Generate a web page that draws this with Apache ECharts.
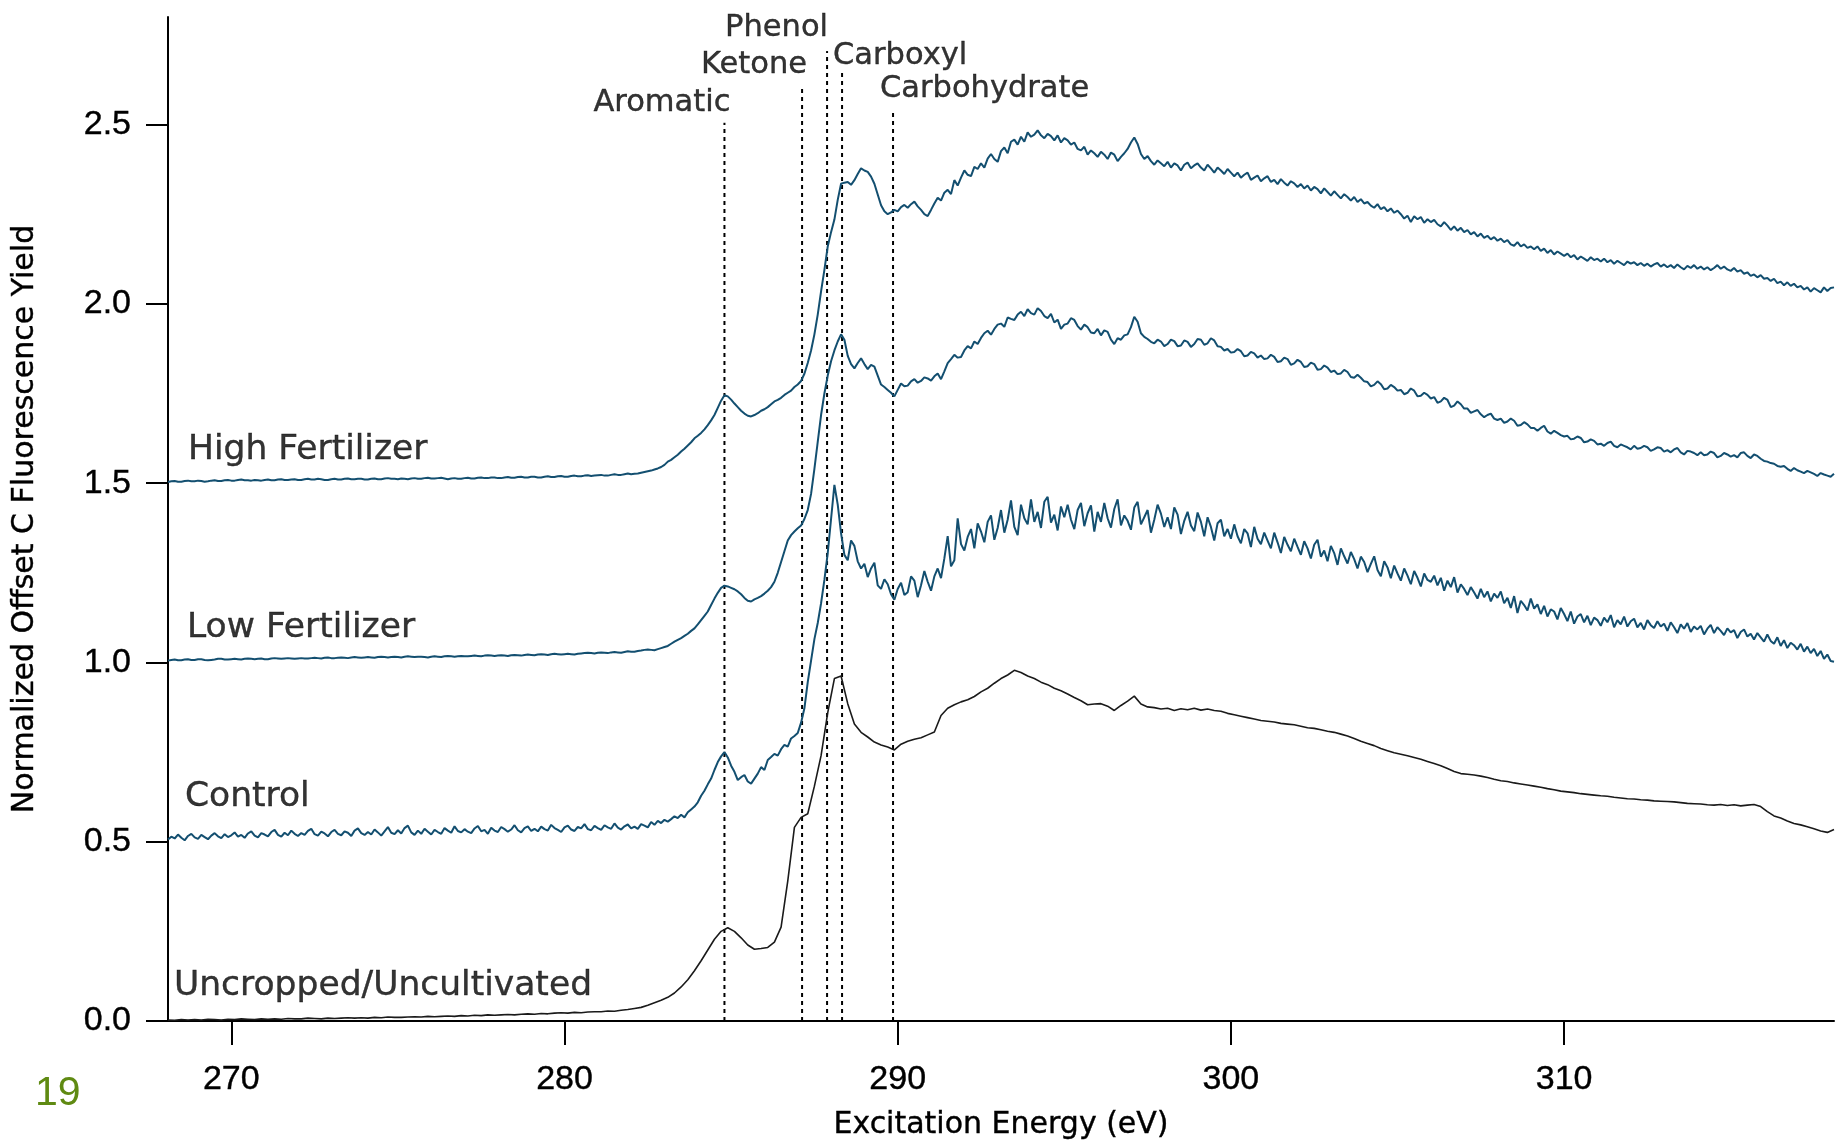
<!DOCTYPE html>
<html>
<head>
<meta charset="utf-8">
<title>C fluorescence yield spectra</title>
<script src="https://cdn.jsdelivr.net/npm/echarts@6/dist/echarts.min.js"></script>
<style>
    html, body { margin: 0; padding: 0; background: #fff; }
    #nexafsChart { width: 1843px; height: 1141px; }
</style>
</head>
<body>
<div id="nexafsChart"></div>
<script>
// energy grid starts at 268.1 eV; the smooth black curve is read every 0.2 eV
// (5 per row), the three noisy blue curves every 0.1 eV (10 per row)
var energyStart = 268.1
var coarseStep = 0.2
var fineStep = 0.1

var uncropped = [
    0.003, 0.002, 0.004, 0.003, 0.004,
    0.003, 0.005, 0.004, 0.003, 0.005,
    0.004, 0.006, 0.005, 0.004, 0.006,
    0.005, 0.006, 0.005, 0.007, 0.006,
    0.006, 0.008, 0.007, 0.006, 0.008,
    0.007, 0.008, 0.009, 0.008, 0.009,
    0.008, 0.010, 0.009, 0.011, 0.010,
    0.010, 0.011, 0.012, 0.011, 0.013,
    0.012, 0.013, 0.014, 0.013, 0.015,
    0.014, 0.016, 0.015, 0.017, 0.016,
    0.017, 0.018, 0.017, 0.019, 0.020,
    0.019, 0.021, 0.020, 0.022, 0.023,
    0.022, 0.024, 0.023, 0.025, 0.026,
    0.026, 0.028, 0.027, 0.030, 0.032,
    0.035, 0.038, 0.044, 0.051, 0.058,
    0.066, 0.078, 0.095, 0.115, 0.140,
    0.168, 0.198, 0.228, 0.250, 0.260,
    0.250, 0.232, 0.212, 0.200, 0.202,
    0.205, 0.220, 0.262, 0.390, 0.540,
    0.568, 0.578, 0.655, 0.740, 0.860,
    0.955, 0.962, 0.885, 0.828, 0.805,
    0.792, 0.778, 0.770, 0.764, 0.756,
    0.772, 0.780, 0.786, 0.790, 0.798,
    0.806, 0.852, 0.872, 0.882, 0.890,
    0.896, 0.905, 0.918, 0.928, 0.942,
    0.955, 0.965, 0.978, 0.972, 0.962,
    0.955, 0.945, 0.938, 0.928, 0.921,
    0.912, 0.902, 0.893, 0.882, 0.884,
    0.885, 0.878, 0.866, 0.880, 0.892,
    0.906, 0.884, 0.876, 0.874, 0.870,
    0.872, 0.866, 0.871, 0.868, 0.872,
    0.867, 0.870, 0.866, 0.864, 0.858,
    0.854, 0.850, 0.846, 0.842, 0.838,
    0.836, 0.834, 0.830, 0.828, 0.826,
    0.822, 0.818, 0.816, 0.812, 0.808,
    0.805, 0.800, 0.795, 0.788, 0.780,
    0.774, 0.768, 0.760, 0.754, 0.748,
    0.744, 0.740, 0.735, 0.730, 0.724,
    0.718, 0.712, 0.704, 0.696, 0.690,
    0.688, 0.686, 0.683, 0.679, 0.674,
    0.670, 0.668, 0.664, 0.661, 0.658,
    0.655, 0.652, 0.648, 0.645, 0.641,
    0.639, 0.637, 0.634, 0.632, 0.630,
    0.628, 0.627, 0.624, 0.622, 0.620,
    0.619, 0.617, 0.616, 0.614, 0.613,
    0.612, 0.611, 0.609, 0.607, 0.606,
    0.605, 0.603, 0.602, 0.604, 0.601,
    0.603, 0.600, 0.602, 0.604, 0.598,
    0.584, 0.572, 0.566, 0.558, 0.551,
    0.547, 0.542, 0.536, 0.530, 0.526,
    0.534
]

var control = [
    0.506, 0.514, 0.509, 0.520, 0.511, 0.504, 0.516, 0.522, 0.512, 0.508,
    0.519, 0.513, 0.507, 0.517, 0.524, 0.515, 0.510, 0.521, 0.513, 0.518,
    0.526, 0.514, 0.519, 0.511, 0.523, 0.529, 0.517, 0.512, 0.524, 0.520,
    0.515, 0.527, 0.533, 0.519, 0.514, 0.525, 0.518, 0.531, 0.522, 0.516,
    0.524, 0.519, 0.530, 0.536, 0.521, 0.517, 0.528, 0.523, 0.515, 0.527,
    0.533, 0.522, 0.518, 0.529, 0.525, 0.516, 0.531, 0.537, 0.524, 0.519,
    0.527, 0.520, 0.534, 0.526, 0.517, 0.529, 0.541, 0.525, 0.521, 0.532,
    0.523, 0.538, 0.545, 0.526, 0.519, 0.531, 0.522, 0.536, 0.528, 0.520,
    0.533, 0.527, 0.522, 0.538, 0.531, 0.525, 0.543, 0.530, 0.526, 0.535,
    0.528, 0.524, 0.537, 0.544, 0.529, 0.533, 0.522, 0.539, 0.531, 0.527,
    0.541, 0.535, 0.528, 0.534, 0.546, 0.532, 0.526, 0.538, 0.543, 0.530,
    0.536, 0.529, 0.542, 0.535, 0.531, 0.547, 0.538, 0.533, 0.527, 0.540,
    0.545, 0.534, 0.530, 0.541, 0.537, 0.549, 0.535, 0.532, 0.544, 0.538,
    0.533, 0.546, 0.540, 0.536, 0.551, 0.539, 0.534, 0.543, 0.548, 0.537,
    0.542, 0.536, 0.549, 0.545, 0.540, 0.555, 0.547, 0.558, 0.552, 0.561,
    0.556, 0.563, 0.571, 0.566, 0.575, 0.568, 0.582, 0.590, 0.598, 0.610,
    0.628, 0.642, 0.660, 0.676, 0.700, 0.722, 0.738, 0.750, 0.735, 0.712,
    0.695, 0.672, 0.680, 0.686, 0.668, 0.662, 0.676, 0.690, 0.708, 0.700,
    0.728, 0.736, 0.745, 0.740, 0.758, 0.770, 0.765, 0.788, 0.795, 0.803,
    0.832, 0.872, 0.945, 1.005, 1.065, 1.110, 1.165, 1.230, 1.305, 1.400,
    1.495, 1.440, 1.360, 1.300, 1.285, 1.340, 1.325, 1.282, 1.262, 1.275,
    1.238, 1.262, 1.278, 1.215, 1.205, 1.232, 1.218, 1.190, 1.175, 1.205,
    1.222, 1.188, 1.196, 1.240, 1.228, 1.182, 1.215, 1.255, 1.225, 1.200,
    1.240, 1.262, 1.235, 1.290, 1.352, 1.268, 1.285, 1.402, 1.330, 1.312,
    1.350, 1.372, 1.318, 1.388, 1.365, 1.335, 1.392, 1.410, 1.342, 1.375,
    1.425, 1.362, 1.398, 1.452, 1.378, 1.355, 1.440, 1.402, 1.385, 1.455,
    1.392, 1.420, 1.375, 1.448, 1.462, 1.390, 1.412, 1.368, 1.435, 1.405,
    1.440, 1.398, 1.372, 1.425, 1.445, 1.380, 1.416, 1.438, 1.365, 1.420,
    1.392, 1.445, 1.402, 1.376, 1.428, 1.455, 1.382, 1.410, 1.395, 1.370,
    1.432, 1.448, 1.385, 1.405, 1.425, 1.362, 1.398, 1.440, 1.415, 1.378,
    1.405, 1.372, 1.432, 1.412, 1.358, 1.395, 1.420, 1.382, 1.366, 1.418,
    1.392, 1.352, 1.405, 1.378, 1.340, 1.388, 1.398, 1.352, 1.372, 1.345,
    1.385, 1.352, 1.332, 1.372, 1.360, 1.322, 1.378, 1.345, 1.330, 1.362,
    1.340, 1.318, 1.362, 1.335, 1.305, 1.350, 1.328, 1.310, 1.345, 1.322,
    1.300, 1.338, 1.318, 1.290, 1.328, 1.342, 1.295, 1.312, 1.282, 1.325,
    1.305, 1.272, 1.318, 1.296, 1.276, 1.308, 1.288, 1.262, 1.295, 1.280,
    1.252, 1.275, 1.296, 1.258, 1.240, 1.282, 1.265, 1.235, 1.270, 1.248,
    1.228, 1.262, 1.242, 1.218, 1.255, 1.236, 1.212, 1.248, 1.230, 1.225,
    1.242, 1.215, 1.236, 1.200, 1.228, 1.210, 1.238, 1.195, 1.218, 1.205,
    1.188, 1.210, 1.195, 1.178, 1.205, 1.182, 1.198, 1.170, 1.192, 1.180,
    1.198, 1.165, 1.180, 1.152, 1.185, 1.138, 1.172, 1.160, 1.145, 1.178,
    1.150, 1.162, 1.135, 1.158, 1.128, 1.148, 1.142, 1.120, 1.152, 1.135,
    1.115, 1.142, 1.108, 1.128, 1.135, 1.112, 1.130, 1.104, 1.125, 1.118,
    1.102, 1.125, 1.112, 1.132, 1.098, 1.118, 1.106, 1.128, 1.100, 1.115,
    1.122, 1.098, 1.110, 1.092, 1.118, 1.104, 1.096, 1.115, 1.100, 1.108,
    1.088, 1.112, 1.098, 1.082, 1.106, 1.094, 1.110, 1.085, 1.100, 1.092,
    1.102, 1.078, 1.094, 1.105, 1.082, 1.098, 1.088, 1.076, 1.095, 1.084,
    1.090, 1.068, 1.085, 1.092, 1.072, 1.080, 1.064, 1.082, 1.070, 1.058,
    1.078, 1.060, 1.052, 1.070, 1.046, 1.062, 1.040, 1.055, 1.048, 1.036,
    1.052, 1.030, 1.044, 1.026, 1.038, 1.018, 1.032, 1.010, 1.022, 1.004,
    1.002
]

var lowFertilizer = [
    1.005, 1.007, 1.008, 1.006, 1.006, 1.008, 1.009, 1.007, 1.007, 1.009,
    1.009, 1.007, 1.006, 1.007, 1.008, 1.010, 1.010, 1.008, 1.008, 1.009,
    1.010, 1.009, 1.008, 1.010, 1.011, 1.010, 1.009, 1.010, 1.011, 1.009,
    1.009, 1.011, 1.012, 1.011, 1.010, 1.011, 1.012, 1.011, 1.010, 1.011,
    1.012, 1.011, 1.011, 1.012, 1.013, 1.012, 1.011, 1.013, 1.014, 1.012,
    1.012, 1.013, 1.014, 1.013, 1.012, 1.014, 1.015, 1.014, 1.013, 1.014,
    1.015, 1.014, 1.013, 1.015, 1.016, 1.015, 1.014, 1.015, 1.016, 1.015,
    1.014, 1.016, 1.017, 1.016, 1.015, 1.016, 1.016, 1.015, 1.014, 1.016,
    1.017, 1.016, 1.015, 1.017, 1.018, 1.017, 1.016, 1.017, 1.018, 1.017,
    1.017, 1.018, 1.019, 1.018, 1.017, 1.019, 1.020, 1.019, 1.018, 1.019,
    1.020, 1.019, 1.018, 1.020, 1.021, 1.020, 1.019, 1.021, 1.022, 1.021,
    1.020, 1.022, 1.023, 1.022, 1.021, 1.023, 1.024, 1.023, 1.022, 1.023,
    1.024, 1.023, 1.022, 1.024, 1.025, 1.026, 1.027, 1.026, 1.025, 1.027,
    1.028, 1.027, 1.026, 1.028, 1.029, 1.028, 1.027, 1.029, 1.031, 1.030,
    1.030, 1.032, 1.033, 1.035, 1.036, 1.035, 1.034, 1.037, 1.040, 1.043,
    1.046, 1.052, 1.058, 1.063, 1.068, 1.074, 1.080, 1.088, 1.095, 1.106,
    1.118, 1.130, 1.142, 1.160, 1.178, 1.194, 1.208, 1.214, 1.212, 1.208,
    1.204, 1.198, 1.190, 1.180, 1.172, 1.170, 1.176, 1.180, 1.185, 1.192,
    1.200, 1.210, 1.225, 1.250, 1.280, 1.310, 1.340, 1.355, 1.365, 1.374,
    1.382, 1.400, 1.425, 1.470, 1.540, 1.615, 1.690, 1.750, 1.800, 1.840,
    1.870, 1.895, 1.915, 1.900, 1.855, 1.832, 1.820, 1.835, 1.848, 1.832,
    1.818, 1.830, 1.825, 1.800, 1.775, 1.768, 1.760, 1.752, 1.742, 1.760,
    1.778, 1.770, 1.772, 1.784, 1.790, 1.780, 1.785, 1.795, 1.792, 1.786,
    1.798, 1.806, 1.790, 1.812, 1.835, 1.846, 1.858, 1.850, 1.852, 1.870,
    1.882, 1.876, 1.895, 1.888, 1.905, 1.918, 1.925, 1.914, 1.930, 1.942,
    1.945, 1.936, 1.962, 1.958, 1.955, 1.970, 1.978, 1.966, 1.985, 1.974,
    1.970, 1.988, 1.980, 1.966, 1.960, 1.972, 1.948, 1.956, 1.930, 1.942,
    1.945, 1.960, 1.955, 1.938, 1.928, 1.942, 1.935, 1.920, 1.918, 1.930,
    1.912, 1.926, 1.922, 1.900, 1.888, 1.904, 1.900, 1.912, 1.915, 1.935,
    1.964, 1.950, 1.918, 1.908, 1.902, 1.894, 1.890, 1.900, 1.895, 1.882,
    1.888, 1.900, 1.896, 1.882, 1.884, 1.898, 1.894, 1.880, 1.888, 1.902,
    1.900, 1.886, 1.890, 1.904, 1.898, 1.882, 1.880, 1.870, 1.874, 1.864,
    1.866, 1.874, 1.868, 1.854, 1.856, 1.866, 1.862, 1.850, 1.856, 1.846,
    1.848, 1.858, 1.852, 1.838, 1.840, 1.850, 1.846, 1.830, 1.834, 1.844,
    1.838, 1.824, 1.826, 1.836, 1.832, 1.816, 1.818, 1.828, 1.822, 1.810,
    1.814, 1.804, 1.806, 1.816, 1.810, 1.796, 1.794, 1.802, 1.794, 1.784,
    1.782, 1.770, 1.774, 1.784, 1.776, 1.762, 1.764, 1.774, 1.768, 1.758,
    1.760, 1.748, 1.752, 1.764, 1.758, 1.742, 1.744, 1.752, 1.746, 1.736,
    1.740, 1.724, 1.728, 1.738, 1.732, 1.712, 1.716, 1.728, 1.720, 1.708,
    1.708, 1.696, 1.700, 1.704, 1.692, 1.684, 1.690, 1.694, 1.680, 1.676,
    1.680, 1.668, 1.672, 1.680, 1.674, 1.660, 1.662, 1.670, 1.664, 1.654,
    1.654, 1.646, 1.654, 1.660, 1.644, 1.638, 1.646, 1.640, 1.634, 1.630,
    1.632, 1.622, 1.624, 1.630, 1.626, 1.614, 1.616, 1.622, 1.618, 1.608,
    1.610, 1.604, 1.612, 1.616, 1.604, 1.600, 1.608, 1.604, 1.600, 1.594,
    1.604, 1.596, 1.598, 1.604, 1.600, 1.590, 1.594, 1.600, 1.598, 1.588,
    1.592, 1.586, 1.594, 1.598, 1.586, 1.580, 1.590, 1.588, 1.584, 1.578,
    1.586, 1.578, 1.580, 1.588, 1.584, 1.572, 1.576, 1.584, 1.580, 1.574,
    1.578, 1.572, 1.584, 1.586, 1.576, 1.570, 1.580, 1.576, 1.568, 1.562,
    1.560, 1.556, 1.554, 1.548, 1.546, 1.548, 1.540, 1.534, 1.542, 1.536,
    1.532, 1.528, 1.534, 1.530, 1.526, 1.520, 1.528, 1.524, 1.521, 1.518,
    1.526
]

var highFertilizer = [
    1.503, 1.505, 1.506, 1.504, 1.504, 1.506, 1.507, 1.505, 1.505, 1.507,
    1.506, 1.504, 1.505, 1.507, 1.508, 1.506, 1.506, 1.508, 1.509, 1.507,
    1.507, 1.509, 1.510, 1.508, 1.508, 1.507, 1.509, 1.508, 1.507, 1.509,
    1.510, 1.508, 1.508, 1.510, 1.511, 1.509, 1.509, 1.510, 1.511, 1.509,
    1.509, 1.511, 1.512, 1.510, 1.510, 1.512, 1.511, 1.509, 1.509, 1.511,
    1.512, 1.510, 1.510, 1.512, 1.513, 1.511, 1.511, 1.512, 1.512, 1.510,
    1.510, 1.512, 1.513, 1.511, 1.511, 1.513, 1.514, 1.512, 1.512, 1.511,
    1.513, 1.512, 1.511, 1.513, 1.514, 1.512, 1.512, 1.514, 1.515, 1.513,
    1.513, 1.514, 1.515, 1.513, 1.511, 1.513, 1.514, 1.512, 1.512, 1.514,
    1.515, 1.513, 1.513, 1.515, 1.516, 1.514, 1.514, 1.516, 1.516, 1.514,
    1.514, 1.516, 1.517, 1.515, 1.515, 1.517, 1.518, 1.516, 1.516, 1.518,
    1.518, 1.516, 1.516, 1.518, 1.519, 1.517, 1.517, 1.519, 1.520, 1.518,
    1.518, 1.520, 1.521, 1.519, 1.519, 1.521, 1.522, 1.520, 1.521, 1.522,
    1.523, 1.521, 1.521, 1.523, 1.525, 1.523, 1.523, 1.525, 1.527, 1.525,
    1.526, 1.527, 1.529, 1.531, 1.533, 1.535, 1.538, 1.541, 1.545, 1.551,
    1.560, 1.565, 1.572, 1.579, 1.588, 1.596, 1.605, 1.614, 1.625, 1.632,
    1.640, 1.650, 1.662, 1.675, 1.690, 1.710, 1.730, 1.745, 1.742, 1.733,
    1.722, 1.712, 1.702, 1.694, 1.688, 1.686, 1.690, 1.695, 1.702, 1.706,
    1.712, 1.720, 1.728, 1.732, 1.738, 1.746, 1.752, 1.758, 1.768, 1.775,
    1.785, 1.805, 1.835, 1.870, 1.915, 1.970, 2.035, 2.095, 2.160, 2.200,
    2.235, 2.290, 2.335, 2.338, 2.340, 2.332, 2.345, 2.362, 2.378, 2.372,
    2.368, 2.355, 2.335, 2.305, 2.275, 2.258, 2.250, 2.255, 2.262, 2.258,
    2.270, 2.276, 2.268, 2.278, 2.285, 2.272, 2.262, 2.250, 2.245, 2.262,
    2.280, 2.296, 2.288, 2.310, 2.318, 2.306, 2.345, 2.330, 2.352, 2.372,
    2.360, 2.356, 2.382, 2.376, 2.392, 2.380, 2.405, 2.418, 2.404, 2.396,
    2.426, 2.436, 2.420, 2.452, 2.458, 2.444, 2.466, 2.452, 2.478, 2.466,
    2.472, 2.484, 2.470, 2.462, 2.474, 2.468, 2.456, 2.470, 2.450, 2.462,
    2.456, 2.444, 2.450, 2.432, 2.428, 2.438, 2.416, 2.428, 2.420, 2.410,
    2.424, 2.416, 2.404, 2.422, 2.416, 2.398, 2.410, 2.420, 2.432, 2.450,
    2.464, 2.446, 2.418, 2.404, 2.412, 2.398, 2.388, 2.400, 2.392, 2.384,
    2.396, 2.380, 2.392, 2.386, 2.372, 2.388, 2.394, 2.378, 2.386, 2.392,
    2.380, 2.372, 2.388, 2.378, 2.366, 2.380, 2.372, 2.362, 2.376, 2.366,
    2.356, 2.366, 2.352, 2.360, 2.366, 2.346, 2.352, 2.358, 2.342, 2.350,
    2.356, 2.340, 2.346, 2.334, 2.348, 2.338, 2.330, 2.342, 2.336, 2.326,
    2.334, 2.322, 2.330, 2.316, 2.326, 2.320, 2.308, 2.322, 2.312, 2.302,
    2.314, 2.304, 2.294, 2.306, 2.298, 2.288, 2.298, 2.284, 2.292, 2.280,
    2.284, 2.274, 2.268, 2.278, 2.264, 2.270, 2.258, 2.266, 2.254, 2.260,
    2.250, 2.238, 2.246, 2.228, 2.244, 2.236, 2.242, 2.226, 2.236, 2.228,
    2.234, 2.222, 2.216, 2.228, 2.218, 2.206, 2.216, 2.204, 2.212, 2.200,
    2.206, 2.194, 2.200, 2.188, 2.196, 2.184, 2.190, 2.180, 2.186, 2.176,
    2.182, 2.172, 2.178, 2.166, 2.162, 2.172, 2.160, 2.166, 2.156, 2.160,
    2.152, 2.160, 2.148, 2.154, 2.142, 2.150, 2.138, 2.146, 2.140, 2.134,
    2.140, 2.130, 2.136, 2.124, 2.132, 2.126, 2.120, 2.130, 2.122, 2.126,
    2.118, 2.126, 2.116, 2.122, 2.112, 2.120, 2.114, 2.108, 2.118, 2.112,
    2.116, 2.108, 2.114, 2.106, 2.112, 2.104, 2.110, 2.114, 2.104, 2.110,
    2.102, 2.108, 2.100, 2.110, 2.102, 2.096, 2.106, 2.100, 2.108, 2.098,
    2.104, 2.096, 2.102, 2.094, 2.100, 2.108, 2.098, 2.104, 2.096, 2.092,
    2.100, 2.090, 2.094, 2.084, 2.088, 2.078, 2.082, 2.074, 2.080, 2.070,
    2.072, 2.064, 2.070, 2.058, 2.062, 2.052, 2.060, 2.050, 2.056, 2.046,
    2.050, 2.040, 2.046, 2.034, 2.044, 2.038, 2.032, 2.046, 2.036, 2.044,
    2.046
]

var curveNames = ['Uncropped/Uncultivated', 'Control', 'Low Fertilizer', 'High Fertilizer']
var curveValues = [uncropped, control, lowFertilizer, highFertilizer]
var curveSteps = [coarseStep, fineStep, fineStep, fineStep]

// dotted reference lines for functional groups
var peakNames = ['Aromatic', 'Ketone', 'Phenol', 'Carboxyl', 'Carbohydrate']
var peakEnergy = [284.8, 287.13, 287.88, 288.33, 289.86]
var peakTop = [2.505, 2.61, 2.705, 2.645, 2.535]

var xTicks = [270, 280, 290, 300, 310]
var yTicks = [0, 0.5, 1.0, 1.5, 2.0, 2.5]

var blue = '#134f70'
var curveColors = ['#1a1a1a', blue, blue, blue]
var curveWidths = [1.6, 2, 2, 2]
// label placement (px) relative to the first point of each curve
var curveLabelOffset = [[6, -34], [17, -43], [19, -33], [20, -32]]
// label placement (px) relative to the top of each dotted line
var peakLabelAlign = ['right', 'right', 'right', 'left', 'left']
var peakLabelOffset = [[6, -20], [5, -20], [1, -23], [-9, -17], [-13, -23]]

// slightly heavier text, closer to the original slide rendering
var inkText = { color: '#000', textBorderColor: '#000', textBorderWidth: 0.4 }

function toPoints(values, step) {
    var pts = []
    for (var i = 0; i < values.length; i++) {
        pts.push([+(energyStart + i * step).toFixed(2), values[i]])
    }
    return pts
}

var series = []

peakEnergy.forEach(function (e, i) {
    series.push({
        name: peakNames[i] + ' line',
        type: 'line',
        data: [[e, 0], [e, peakTop[i]]],
        showSymbol: false,
        silent: true,
        z: 1,
        lineStyle: { color: '#000', width: 2, type: [4, 4] }
    })
})

curveValues.forEach(function (vals, i) {
    series.push({
        name: curveNames[i],
        type: 'line',
        data: toPoints(vals, curveSteps[i]),
        showSymbol: false,
        z: 3,
        lineStyle: { color: curveColors[i], width: curveWidths[i] }
    })
})

// curve names, anchored on each curve's first point
series.push({
    name: 'curve labels',
    type: 'scatter',
    symbolSize: 1,
    itemStyle: { color: 'rgba(0,0,0,0)' },
    silent: true,
    z: 5,
    data: curveNames.map(function (n, i) {
        return {
            name: n,
            value: [energyStart, curveValues[i][0]],
            label: { offset: curveLabelOffset[i] }
        }
    }),
    label: Object.assign({
        show: true,
        position: 'inside',
        align: 'left',
        verticalAlign: 'middle',
        formatter: '{b}',
        fontFamily: 'DejaVu Sans',
        fontSize: 34.5
    }, inkText)
})

// functional group names above the dotted lines
series.push({
    name: 'peak labels',
    type: 'scatter',
    symbolSize: 1,
    itemStyle: { color: 'rgba(0,0,0,0)' },
    silent: true,
    z: 5,
    data: peakNames.map(function (n, i) {
        return {
            name: n,
            value: [peakEnergy[i], peakTop[i]],
            label: { align: peakLabelAlign[i], offset: peakLabelOffset[i] }
        }
    }),
    label: Object.assign({
        show: true,
        position: 'inside',
        verticalAlign: 'middle',
        formatter: '{b}',
        fontFamily: 'DejaVu Sans',
        fontSize: 30.5
    }, inkText)
})

var chart = echarts.init(document.getElementById('nexafsChart'))
chart.setOption({
    animation: false,
    backgroundColor: '#fff',
    grid: { left: 168, right: 9, top: 17, bottom: 120, outerBoundsMode: 'none' },
    xAxis: {
        type: 'value',
        min: 268.1,
        max: 318.1,
        name: 'Excitation Energy (eV)',
        nameLocation: 'middle',
        nameGap: 89,
        nameTextStyle: Object.assign({ fontFamily: 'DejaVu Sans', fontSize: 30 }, inkText),
        axisLine: { onZero: false, lineStyle: { color: '#000', width: 2 } },
        axisTick: { show: true, length: 24, lineStyle: { color: '#000', width: 2 }, customValues: xTicks },
        axisLabel: Object.assign({
            customValues: xTicks,
            margin: 42,
            fontFamily: 'Liberation Sans',
            fontSize: 34
        }, inkText),
        splitLine: { show: false }
    },
    yAxis: {
        type: 'value',
        min: 0,
        max: 2.8,
        name: 'Normalized Offset C Fluorescence Yield',
        nameLocation: 'middle',
        nameRotate: 90,
        nameGap: 128,
        nameTextStyle: Object.assign({ fontFamily: 'DejaVu Sans', fontSize: 30 }, inkText),
        axisLine: { show: true, onZero: false, lineStyle: { color: '#000', width: 2 } },
        axisTick: { show: true, length: 22, lineStyle: { color: '#000', width: 2 }, customValues: yTicks },
        axisLabel: Object.assign({
            customValues: yTicks,
            margin: 37,
            fontFamily: 'Liberation Sans',
            fontSize: 34,
            formatter: function (v) { return v.toFixed(1) }
        }, inkText),
        splitLine: { show: false }
    },
    graphic: [{
        type: 'text',
        x: 35,
        y: 1094,
        silent: true,
        style: {
            text: '19',
            fill: '#5f8a12',
            fontFamily: 'Liberation Sans',
            fontSize: 41,
            verticalAlign: 'middle'
        }
    }],
    series: series
})
</script>
</body>
</html>
